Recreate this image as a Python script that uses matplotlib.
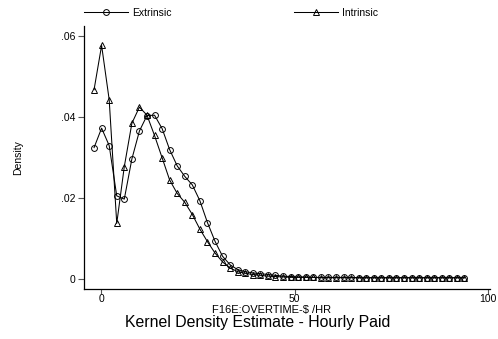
import matplotlib.pyplot as plt

plt.rcParams['font.family'] = ['Liberation Sans', 'DejaVu Sans']

# evaluation grid (F16E overtime $/hr)
grid = [-1.80, 0.15, 2.11, 4.06, 6.01, 7.97, 9.92, 11.87, 13.82, 15.78,
        17.73, 19.68, 21.64, 23.59, 25.54, 27.50, 29.45, 31.40, 33.35, 35.31,
        37.26, 39.21, 41.17, 43.12, 45.07, 47.03, 48.98, 50.93, 52.88, 54.84,
        56.79, 58.74, 60.70, 62.65, 64.60, 66.56, 68.51, 70.46, 72.41, 74.37,
        76.32, 78.27, 80.23, 82.18, 84.13, 86.09, 88.04, 89.99, 91.94, 93.90]

extrinsic = [.0325, .0373, .0330, .0206, .0198, .0297, .0366, .0404, .0405, .0372,
             .0320, .0280, .0254, .0233, .0194, .0140, .0094, .0057, .0036, .0024,
             .0019, .0016, .0014, .0012, .0010, .0008, .0007, .0006, .0006, .0005,
             .0005, .0005, .0005, .0005, .0005, .0004, .0004, .0004, .0004, .0004,
             .0004, .0004, .0004, .0004, .0004, .0004, .0004, .0004, .0004, .0004]

intrinsic = [.0468, .0577, .0443, .0138, .0278, .0385, .0425, .0405, .0355, .0300,
             .0245, .0212, .0190, .0160, .0124, .0093, .0065, .0043, .0028, .0019,
             .0015, .0012, .0010, .0008, .0007, .0006, .0005, .0005, .0005, .0005,
             .0004, .0004, .0004, .0004, .0004, .0004, .0004, .0004, .0004, .0004,
             .0004, .0004, .0004, .0004, .0004, .0004, .0004, .0004, .0004, .0004]

xticks = [0, 50, 100]
yticks = [0, .02, .04, .06]
ylabels = ['0', '.02', '.04', '.06']

fig = plt.figure(figsize=(4.98, 3.39), dpi=100)
ax = fig.add_axes([84/498, 1 - 288.7/339, (490-84)/498, (288.7-26)/339])

style = dict(color='black', lw=0.75, mfc='none', mec='black', mew=0.7)
ax.plot(grid, extrinsic, marker='o', ms=4.2, label='Extrinsic', **style)
ax.plot(grid, intrinsic, marker='^', ms=4.2, label='Intrinsic', **style)

ax.set_xlim(-4.4, 100.5)
ax.set_ylim(-0.0023, 0.0625)
ax.set_xticks(xticks)
ax.set_yticks(yticks)
ax.set_yticklabels(ylabels)
ax.tick_params(labelsize=7.5, length=4, width=0.8, color='#555555')
ax.tick_params(axis='x', length=3.5, pad=0.3)
ax.tick_params(axis='y', pad=2)
for s in ['top', 'right']:
    ax.spines[s].set_visible(False)
for s in ['left', 'bottom']:
    ax.spines[s].set_linewidth(0.9)

fig.text(18/498, 1 - 158/339, 'Density', rotation=90, ha='center', va='center', fontsize=7.5)
fig.text(272/498, 1 - 309.5/339, 'F16E:OVERTIME-$ /HR', ha='center', va='center', fontsize=8)
fig.text(258/498, 1 - 323/339, 'Kernel Density Estimate - Hourly Paid', ha='center', va='center', fontsize=11.4)

leg = ax.legend(loc='center left', bbox_to_anchor=(0.0, 1.0 + 13.5/262.7), ncol=2,
                frameon=False, fontsize=7.5, handlelength=4.2, handletextpad=0.4,
                columnspacing=11.8, borderpad=0, borderaxespad=0)

fig.savefig('out.png', dpi=100)
